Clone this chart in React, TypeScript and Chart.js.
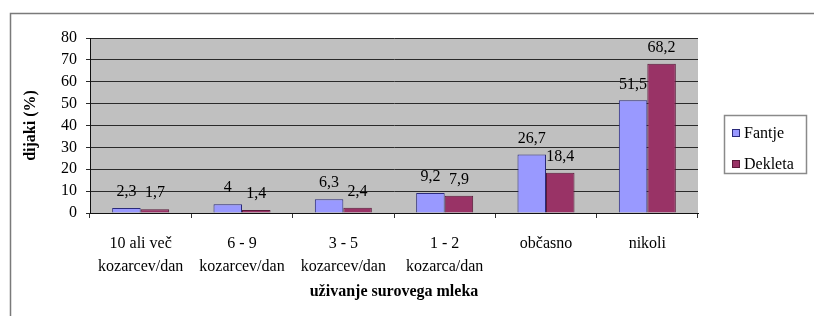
import React, { useEffect, useRef } from "react";
import { Chart, registerables } from "chart.js";

Chart.register(...registerables);

const categories: string[][] = [
  ["10 ali več", "kozarcev/dan"],
  ["6 - 9", "kozarcev/dan"],
  ["3 - 5", "kozarcev/dan"],
  ["1 - 2", "kozarca/dan"],
  ["občasno"],
  ["nikoli"],
];
const fantje = [2.3, 4, 6.3, 9.2, 26.7, 51.5];
const dekleta = [1.7, 1.4, 2.4, 7.9, 18.4, 68.2];
const seriesNames = ["Fantje", "Dekleta"];
const yTitle = "dijaki (%)";
const xTitle = "uživanje surovega mleka";

const FONT = "Liberation Serif";
const FS = 16;
Chart.defaults.font.family = FONT;

const fmt = (v: number) => String(v).replace(".", ",");

const decorPlugin = {
  id: "decor",
  beforeDraw(chart: any) {
    const { ctx, chartArea } = chart;
    ctx.save();
    ctx.fillStyle = "#ffffff";
    ctx.fillRect(0, 0, chart.width, chart.height);
    ctx.strokeStyle = "#7a7a7a";
    ctx.lineWidth = 1.5;
    ctx.strokeRect(10.5, 13.5, chart.width + 10, chart.height + 10);
    ctx.fillStyle = "#c0c0c0";
    ctx.fillRect(chartArea.left, chartArea.top, chartArea.right - chartArea.left, chartArea.bottom - chartArea.top);
    ctx.restore();
  },
  afterDraw(chart: any) {
    const { ctx, chartArea } = chart;
    ctx.save();
    ctx.fillStyle = "#000";
    ctx.font = `${FS}px "${FONT}"`;
    ctx.textAlign = "center";
    ctx.textBaseline = "middle";
    chart.data.datasets.forEach((ds: any, di: number) => {
      const meta = chart.getDatasetMeta(di);
      meta.data.forEach((bar: any, i: number) => {
        ctx.fillText(fmt(ds.data[i]), bar.x, bar.y - 16);
      });
    });
    ctx.font = `bold ${FS}px "${FONT}"`;
    ctx.fillText(xTitle, (chartArea.left + chartArea.right) / 2, 292);
    ctx.save();
    ctx.translate(31, (chartArea.top + chartArea.bottom) / 2);
    ctx.rotate(-Math.PI / 2);
    ctx.fillText(yTitle, 0, 0);
    ctx.restore();
    const lx = 724.5, ly = 115.5, lw = 82, lh = 58;
    ctx.fillStyle = "#fff";
    ctx.fillRect(lx, ly, lw, lh);
    ctx.strokeStyle = "#8a8a8a";
    ctx.lineWidth = 1.5;
    ctx.strokeRect(lx, ly, lw, lh);
    ctx.font = `${FS}px "${FONT}"`;
    ctx.textAlign = "left";
    chart.data.datasets.forEach((ds: any, di: number) => {
      const cy = 133 + di * 31;
      ctx.fillStyle = ds.backgroundColor;
      ctx.fillRect(732, cy - 4, 8, 8);
      ctx.strokeStyle = ds.borderColor;
      ctx.lineWidth = 1;
      ctx.strokeRect(732.5, cy - 3.5, 7, 7);
      ctx.fillStyle = "#000";
      ctx.fillText(ds.label, 744, cy + 1);
    });
    ctx.restore();
  },
};

export default function App() {
  const ref = useRef<HTMLCanvasElement>(null);
  useEffect(() => {
    if (!ref.current) return;
    const chart = new Chart(ref.current, {
      type: "bar",
      data: {
        labels: categories,
        datasets: [
          {
            label: seriesNames[0],
            data: fantje,
            backgroundColor: "#9999ff",
            borderColor: "#2a2a7a",
            borderWidth: 1,
            borderSkipped: "bottom",
          },
          {
            label: seriesNames[1],
            data: dekleta,
            backgroundColor: "#993366",
            borderColor: "#5a1a3a",
            borderWidth: 1,
            borderSkipped: "bottom",
          },
        ],
      },
      options: {
        animation: false,
        responsive: false,
        maintainAspectRatio: false,
        devicePixelRatio: 1,
        font: { family: FONT },
        layout: { padding: { left: 0, top: 38, right: 116, bottom: 0 } },
        datasets: { bar: { categoryPercentage: 0.5625, barPercentage: 1 } },
        plugins: { legend: { display: false }, tooltip: { enabled: false } },
        scales: {
          x: {
            grid: { offset: true, drawOnChartArea: false, drawTicks: true, tickLength: 5, color: "#333" },
            border: { display: true, color: "#111", width: 1 },
            ticks: { color: "#000", font: { family: FONT, size: FS, lineHeight: 1.45 }, padding: 14, maxRotation: 0, autoSkip: false },
            afterFit: (s: any) => { s.height = 316 - 213; },
          },
          y: {
            min: 0,
            max: 80,
            grid: { color: "#2a2a2a", lineWidth: 1, tickLength: 4, drawTicks: true },
            border: { display: true, color: "#111", width: 1 },
            ticks: { stepSize: 10, autoSkip: false, color: "#000", font: { family: FONT, size: FS }, padding: 9 },
            afterFit: (s: any) => { s.width = 90; },
          },
        },
      },
      plugins: [decorPlugin],
    });
    return () => chart.destroy();
  }, []);
  return (
    <div style={{ position: "fixed", left: 0, top: 0, width: 814, height: 316 }}>
      <canvas ref={ref} width={814} height={316} style={{ display: "block" }} />
    </div>
  );
}
